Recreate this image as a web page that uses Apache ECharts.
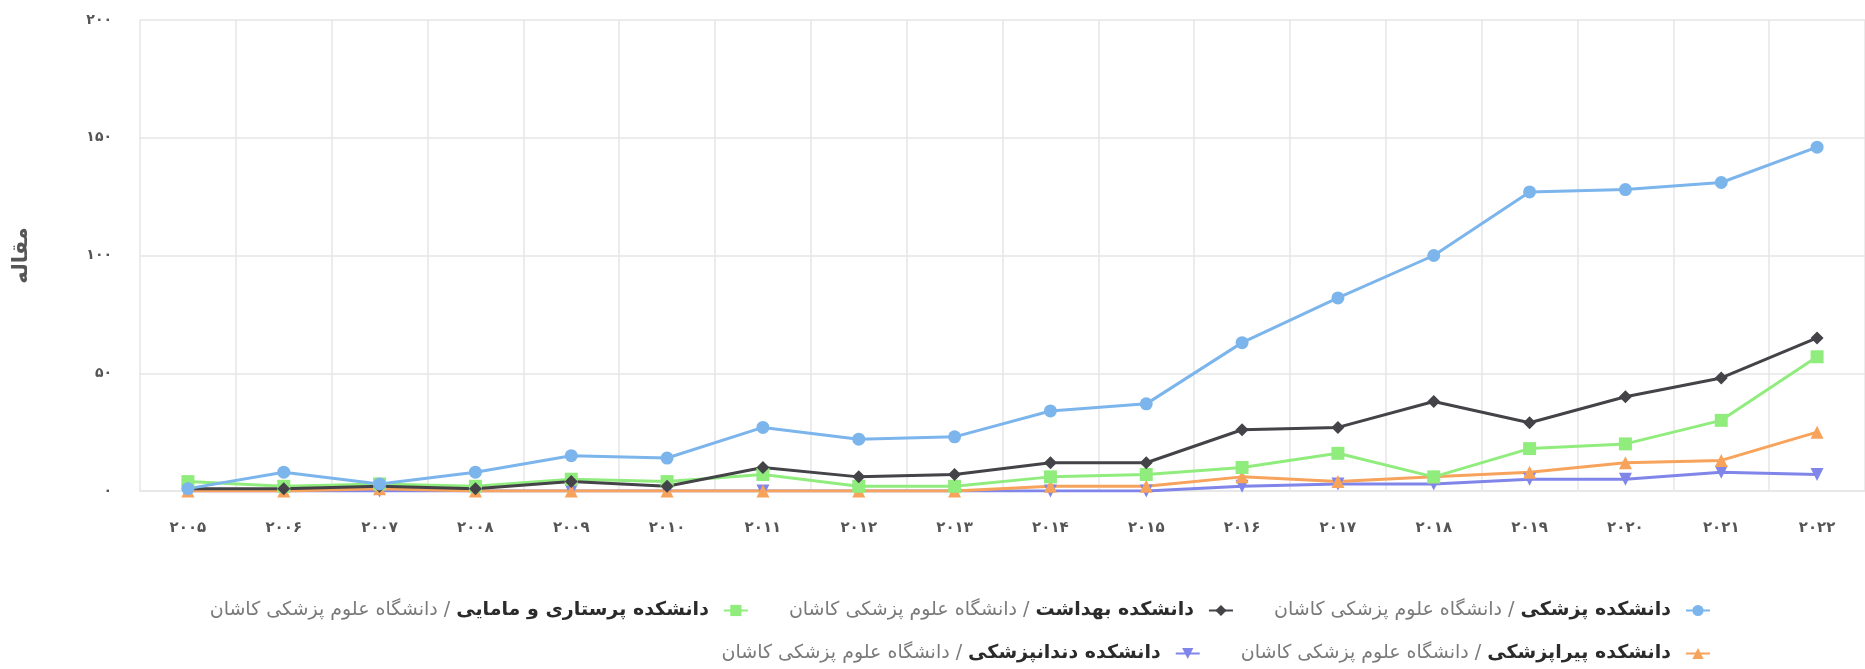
<!DOCTYPE html>
<html>
<head>
<meta charset="utf-8">
<script src="https://cdn.jsdelivr.net/npm/echarts@6/dist/echarts.min.js"></script>
<style>
html,body{margin:0;padding:0;background:#fff;}
#chart{width:1865px;height:669px;}
</style>
</head>
<body>
<div id="chart"></div>
<script>
const categories = ['۲۰۰۵','۲۰۰۶','۲۰۰۷','۲۰۰۸','۲۰۰۹','۲۰۱۰','۲۰۱۱','۲۰۱۲','۲۰۱۳','۲۰۱۴','۲۰۱۵','۲۰۱۶','۲۰۱۷','۲۰۱۸','۲۰۱۹','۲۰۲۰','۲۰۲۱','۲۰۲۲'];
const yTickLabels = {0:'۰',50:'۵۰',100:'۱۰۰',150:'۱۵۰',200:'۲۰۰'};
const yAxisTitle = 'مقاله';
const uni = 'دانشگاه علوم پزشکی کاشان';
const nameMedicine = 'دانشکده پزشکی / ' + uni;
const nameHealth = 'دانشکده بهداشت / ' + uni;
const nameNursing = 'دانشکده پرستاری و مامایی / ' + uni;
const nameParamedical = 'دانشکده پیراپزشکی / ' + uni;
const nameDentistry = 'دانشکده دندانپزشکی / ' + uni;
const medicine = [1,8,3,8,15,14,27,22,23,34,37,63,82,100,127,128,131,146];
const health = [1,1,2,1,4,2,10,6,7,12,12,26,27,38,29,40,48,65];
const nursing = [4,2,3,2,5,4,7,2,2,6,7,10,16,6,18,20,30,57];
const paramedical = [0,0,1,0,0,0,0,0,0,2,2,6,4,6,8,12,13,25];
const dentistry = [0,0,0,0,0,0,0,0,0,0,0,2,3,3,5,5,8,7];

const FONT = 'DejaVu Sans';
const chart = echarts.init(document.getElementById('chart'));

function mkSeries(name, data, color, symbol, rotate) {
  return {
    name: name, type: 'line', data: data,
    symbol: symbol, symbolSize: 13, symbolRotate: rotate || 0,
    showAllSymbol: true,
    lineStyle: {color: color, width: 3},
    itemStyle: {color: color},
    emphasis: {disabled: true}
  };
}

const legendCommon = {
  orient: 'horizontal', align: 'right', itemWidth: 24, itemHeight: 14, itemGap: 40,
  formatter: function (n) {
    const parts = n.split(' / ');
    return '{g|' + parts[1] + '}{g| / }{b|' + parts[0] + '}';
  },
  textStyle: {
    fontFamily: FONT,
    rich: {
      b: {fontFamily: FONT, fontSize: 19, fontWeight: 'bold', color: '#2b2b2b', padding: [0, 10, 0, 0]},
      g: {fontFamily: FONT, fontSize: 19, color: '#7a7a7a'}
    }
  }
};

chart.setOption({
  animation: false,
  backgroundColor: '#fff',
  grid: {left: 140, top: 20, right: -14, bottom: 178, containLabel: false},
  xAxis: {
    type: 'category', data: categories, boundaryGap: true,
    axisLine: {show: true, lineStyle: {color: '#e6e6e6', width: 1.5}},
    axisTick: {show: false},
    axisLabel: {margin: 30, color: '#555', fontFamily: FONT, fontSize: 15, fontWeight: 'bold'},
    splitLine: {show: true, lineStyle: {color: '#e6e6e6', width: 1.5}}
  },
  yAxis: {
    type: 'value', min: 0, max: 200, interval: 50,
    name: yAxisTitle, nameLocation: 'middle', nameRotate: 90, nameGap: 108,
    nameTextStyle: {color: '#555', fontFamily: FONT, fontSize: 21, fontWeight: 'bold'},
    axisLine: {show: false}, axisTick: {show: false},
    axisLabel: {margin: 28, color: '#555', fontFamily: FONT, fontSize: 14, fontWeight: 'bold',
      formatter: function (v) { return yTickLabels[v] !== undefined ? yTickLabels[v] : String(v); }},
    splitLine: {show: true, lineStyle: {color: '#e6e6e6', width: 1.5}}
  },
  legend: [
    Object.assign({}, legendCommon, {right: 149, top: 596, data: [nameNursing, nameHealth, nameMedicine]}),
    Object.assign({}, legendCommon, {right: 149, top: 639, data: [nameDentistry, nameParamedical]})
  ],
  series: [
    mkSeries(nameDentistry, dentistry, '#8085e9', 'triangle', 180),
    mkSeries(nameParamedical, paramedical, '#f7a35c', 'triangle', 0),
    mkSeries(nameNursing, nursing, '#90ed7d', 'rect', 0),
    mkSeries(nameHealth, health, '#434348', 'diamond', 0),
    mkSeries(nameMedicine, medicine, '#7cb5ec', 'circle', 0)
  ]
});
</script>
</body>
</html>
